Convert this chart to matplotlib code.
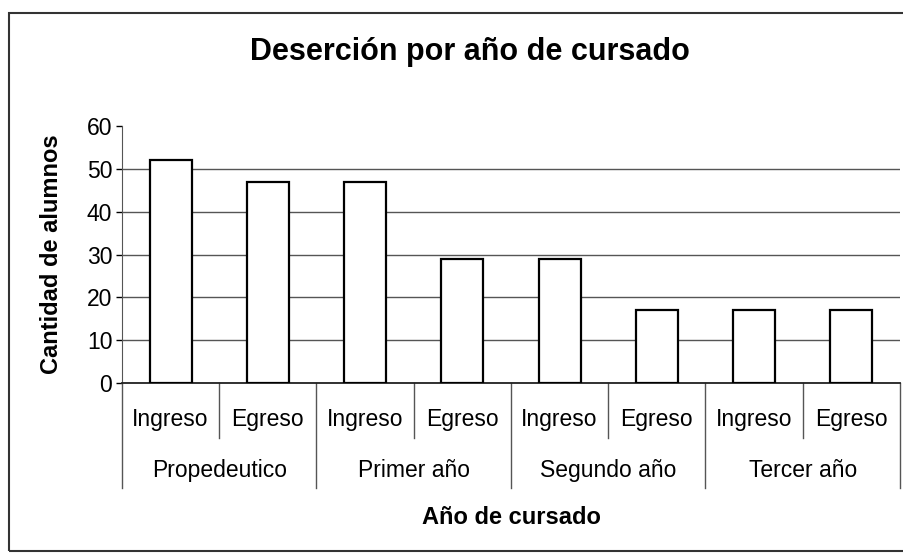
import numpy as np
import matplotlib
matplotlib.use("Agg")
from matplotlib import pyplot as plt
from matplotlib.patches import Rectangle

# datos: deserción por año de cursado
grupos = ["Propedeutico", "Primer año", "Segundo año", "Tercer año"]
subcategorias = ["Ingreso", "Egreso"]
alumnos = [52, 47, 47, 29, 29, 17, 17, 17]

plt.rcParams["font.family"] = ["Liberation Sans", "DejaVu Sans"]

fig = plt.figure(figsize=(9.04, 5.55), dpi=100)
W, H = 904, 555
ax = fig.add_axes([122 / W, 1 - 383 / H, (900 - 122) / W, (383 - 126) / H])

_x = np.arange(len(alumnos))
ax.bar(_x, alumnos, width=0.43, color="white", edgecolor="black", linewidth=1.6, zorder=3)

ax.set_xlim(-0.5, len(alumnos) - 0.5)
ax.set_ylim(0, 60)
ax.set_yticks(range(0, 61, 10))
ax.tick_params(axis="y", labelsize=16.5, length=4, width=1, pad=3, direction="out")
ax.set_xticks([])

# lineas de division horizontales
ax.yaxis.grid(True, color="#555555", linewidth=1)
ax.get_ygridlines()[-1].set_visible(False)
ax.set_axisbelow(True)

for s in ["top", "right"]:
    ax.spines[s].set_visible(False)
ax.spines["left"].set_color("#555555")
ax.spines["bottom"].set_color("#222222")
ax.spines["bottom"].set_linewidth(1.3)

# eje de categorias en dos niveles
tr = ax.get_xaxis_transform()
alto = 383 - 126
y_sub = -(426 - 383) / alto
y_grp = -(477 - 383) / alto
corto = -(438 - 383) / alto
largo = -(488 - 383) / alto
for i in range(len(alumnos) + 1):
    y_fin = largo if i % 2 == 0 else corto
    ax.plot([i - 0.5, i - 0.5], [0, y_fin], transform=tr, color="#555555",
            linewidth=1, clip_on=False)
for i in range(len(alumnos)):
    ax.text(i, y_sub, subcategorias[i % 2], transform=tr, ha="center", va="baseline",
            fontsize=16.5)
for j, g in enumerate(grupos):
    ax.text(2 * j + 0.5, y_grp, g, transform=tr, ha="center", va="baseline", fontsize=16.5)

ax.text(0.5, -(524 - 383) / alto, "Año de cursado", transform=ax.transAxes,
        ha="center", va="baseline", fontsize=17, fontweight="bold")
ax.set_ylabel("Cantidad de alumnos", fontsize=17, fontweight="bold")
ax.yaxis.set_label_coords((63 - 122) / (900 - 122), 0.5)

fig.text(0.5 * (249 + 690) / W, 1 - 52 / H, "Deserción por año de cursado",
         ha="center", va="center", fontsize=22, fontweight="bold")

# marco exterior del grafico
fig.patches.append(Rectangle((9 / W, 1 - 551 / H), 1.0, (551 - 13) / H,
                             transform=fig.transFigure, fill=False,
                             edgecolor="#333333", linewidth=1.5))

plt.savefig("out.png", dpi=100)
